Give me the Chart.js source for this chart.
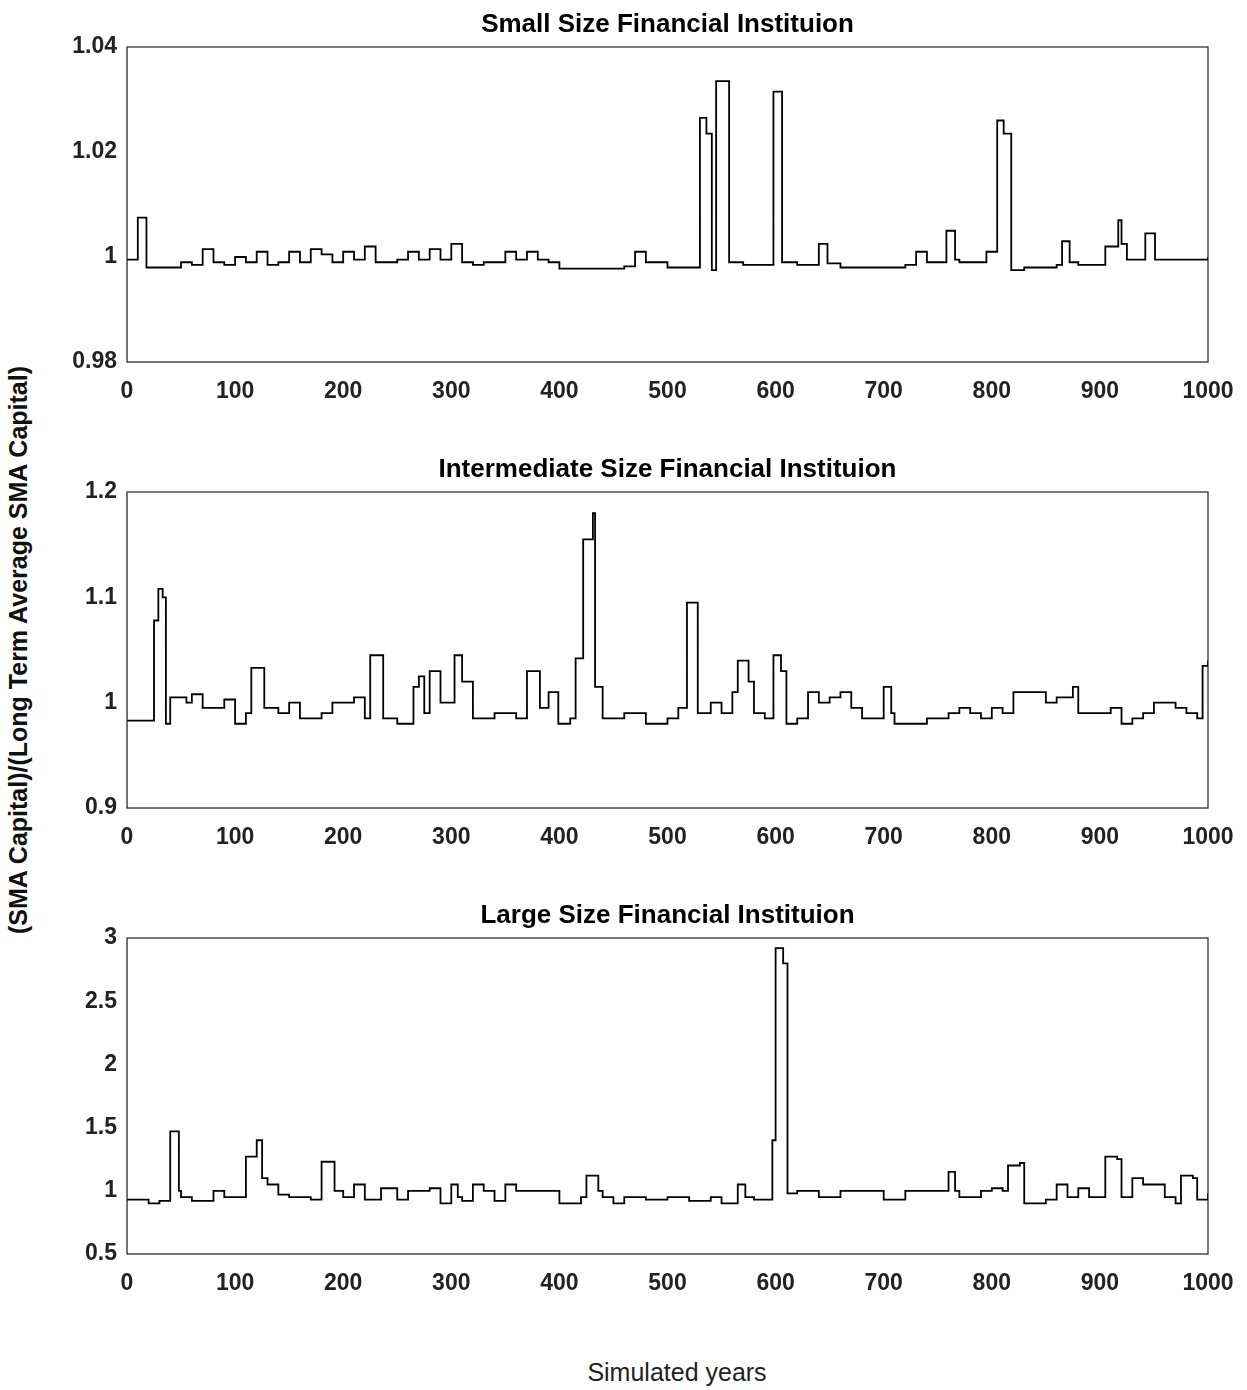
<!DOCTYPE html>
<html><head><meta charset="utf-8">
<script src="https://cdn.jsdelivr.net/npm/chart.js@4/dist/chart.umd.min.js"></script>
<style>
body{margin:0;background:#fff;width:1247px;height:1390px;position:relative;font-family:"Liberation Sans",Arial,sans-serif;overflow:hidden}
.box{position:absolute;left:60px;width:1187px}
#ylab{position:absolute;left:18px;top:650px;transform:translate(-50%,-50%) rotate(-90deg);font-size:25px;font-weight:bold;white-space:nowrap;color:#111}
#xlab{position:absolute;left:677px;top:1372px;transform:translate(-50%,-50%);font-size:25px;color:#222}
</style></head><body>
<div class="box" style="top:0;height:407px"><canvas id="c1"></canvas></div>
<div class="box" style="top:445px;height:408px"><canvas id="c2"></canvas></div>
<div class="box" style="top:891px;height:408px"><canvas id="c3"></canvas></div>
<div id="ylab">(SMA Capital)/(Long Term Average SMA Capital)</div>
<div id="xlab">Simulated years</div>
<script>
// ---- data: [year, ratio] step points ----
const smallYears = [0,10,18,30,50,60,70,80,90,100,110,120,130,140,150,160,170,180,190,200,210,220,230,240,250,260,270,280,290,300,310,320,330,350,360,370,380,390,400,420,440,460,470,480,500,520,530,536,541,545,557,570,598,606,620,640,648,660,700,720,730,740,758,766,770,790,795,805,811,818,830,860,865,872,880,900,905,917,920,925,942,951,960,980,1000];
const smallVals  = [0.9995,1.0075,0.998,0.998,0.999,0.9985,1.0015,0.999,0.9985,1.0,0.999,1.001,0.9985,0.999,1.001,0.999,1.0015,1.0005,0.999,1.001,0.9995,1.002,0.999,0.999,0.9995,1.001,0.9995,1.0015,0.9995,1.0025,0.999,0.9985,0.999,1.001,0.9995,1.001,0.9995,0.999,0.9978,0.9978,0.9978,0.9982,1.001,0.999,0.998,0.998,1.0265,1.0235,0.9975,1.0335,0.999,0.9985,1.0315,0.999,0.9985,1.0025,0.9988,0.998,0.998,0.9985,1.001,0.999,1.005,0.9995,0.999,0.999,1.001,1.026,1.0235,0.9975,0.998,0.9985,1.003,0.999,0.9985,0.9985,1.002,1.007,1.0025,0.9995,1.0045,0.9995,0.9995,0.9995,1.0];

const midYears = [0,25,29,33,36,40,55,60,70,80,90,100,110,115,127,140,150,160,180,190,200,210,220,225,237,250,265,270,275,280,290,295,303,310,320,340,360,370,382,390,399,410,415,422,431,433,440,460,480,500,510,518,528,540,550,560,565,575,580,590,598,605,610,620,630,640,650,660,670,680,700,707,710,720,740,760,770,780,790,800,810,820,830,840,850,860,875,880,900,910,920,930,940,950,960,970,980,990,995,1000];
const midVals  = [0.983,1.078,1.108,1.10,0.98,1.005,1.0,1.008,0.995,0.995,1.003,0.98,0.99,1.033,0.995,0.99,1.0,0.985,0.99,1.0,1.0,1.005,0.985,1.045,0.985,0.98,1.015,1.025,0.99,1.03,1.0,1.0,1.045,1.02,0.985,0.99,0.985,1.03,0.995,1.01,0.98,0.985,1.042,1.155,1.18,1.015,0.985,0.99,0.98,0.985,0.995,1.095,0.99,1.0,0.99,1.01,1.04,1.02,0.99,0.985,1.045,1.03,0.98,0.985,1.01,1.0,1.005,1.01,0.995,0.985,1.015,0.99,0.98,0.98,0.985,0.99,0.995,0.99,0.985,0.995,0.99,1.01,1.01,1.01,1.0,1.005,1.015,0.99,0.99,0.995,0.98,0.985,0.99,1.0,1.0,0.995,0.99,0.985,1.035,1.04];

const largeYears = [0,20,30,40,48,50,60,80,90,100,110,120,125,130,140,150,170,180,192,200,210,220,235,250,260,280,290,300,306,310,320,330,340,350,360,380,400,420,425,436,440,450,460,480,500,520,540,550,565,572,580,597,600,607,611,620,640,660,680,700,720,740,760,766,770,790,800,810,815,826,830,850,860,870,880,890,905,916,920,930,940,950,960,970,975,986,990,1000];
const largeVals  = [0.93,0.9,0.92,1.47,1.0,0.95,0.92,1.0,0.95,0.95,1.27,1.4,1.1,1.05,0.97,0.95,0.93,1.23,1.0,0.95,1.05,0.93,1.02,0.93,1.0,1.02,0.9,1.05,0.95,0.92,1.05,1.0,0.92,1.05,1.0,1.0,0.9,0.95,1.12,1.0,0.95,0.9,0.95,0.93,0.95,0.92,0.95,0.9,1.05,0.95,0.93,1.4,2.92,2.8,0.98,1.0,0.95,1.0,1.0,0.93,1.0,1.0,1.15,1.0,0.95,1.0,1.02,1.0,1.2,1.22,0.9,0.93,1.05,0.95,1.02,0.95,1.27,1.25,0.95,1.1,1.05,1.05,0.95,0.9,1.12,1.1,0.93,0.98];

const titles = ["Small Size Financial Instituion","Intermediate Size Financial Instituion","Large Size Financial Instituion"];
const yTicks = [[0.98,1.04,0.02],[0.9,1.2,0.1],[0.5,3,0.5]];

const tickFont = { size: 23, weight: "bold", family: "'Liberation Sans', Arial" };

const framePlugin = {
  id: "frame",
  afterDraw(chart, args, opts) {
    const a = chart.chartArea, c = chart.ctx;
    c.save();
    c.strokeStyle = "#222"; c.lineWidth = 1.2;
    c.strokeRect(a.left, a.top, a.right - a.left, a.bottom - a.top);
    c.fillStyle = "#000";
    c.font = "bold 26px 'Liberation Sans', Arial";
    c.textAlign = "center"; c.textBaseline = "middle";
    c.fillText(opts.text, (a.left + a.right) / 2, a.top - 22);
    c.restore();
  }
};

function makeChart(id, xs, ys, idx) {
  const pts = xs.map((x, i) => ({ x: x, y: ys[i] }));
  new Chart(document.getElementById(id), {
    type: "line",
    data: { datasets: [{ data: pts, stepped: true, borderColor: "#000", borderWidth: 1.8, pointRadius: 0, fill: false }] },
    options: {
      responsive: true, maintainAspectRatio: false, animation: false,
      layout: { padding: { top: 47, right: 39, left: 0, bottom: 0 } },
      plugins: { legend: { display: false }, tooltip: { enabled: false }, frame: { text: titles[idx] } },
      scales: {
        x: {
          type: "linear", min: 0, max: 1000,
          ticks: { stepSize: 100, color: "#222", font: tickFont, padding: 10, callback: v => String(v) },
          grid: { display: false, tickLength: 6 },
          afterFit(s) { s.height = 45; }
        },
        y: {
          min: yTicks[idx][0], max: yTicks[idx][1],
          ticks: { stepSize: yTicks[idx][2], color: "#222", font: tickFont, padding: 4,
                   callback: v => String(Number(v.toFixed(2))) },
          grid: { display: false, tickLength: 6 },
          afterFit(s) { s.width = 67; }
        }
      }
    },
    plugins: [framePlugin]
  });
}

makeChart("c1", smallYears, smallVals, 0);
makeChart("c2", midYears, midVals, 1);
makeChart("c3", largeYears, largeVals, 2);
</script>
</body></html>
